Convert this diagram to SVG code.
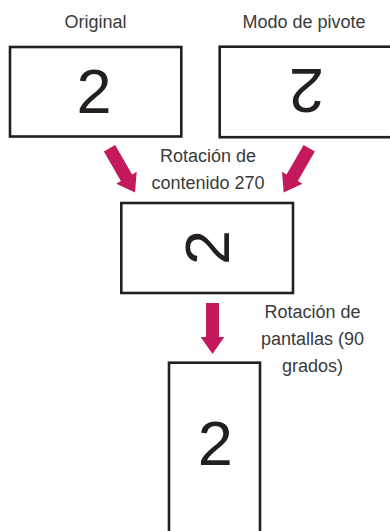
<svg xmlns="http://www.w3.org/2000/svg" width="390" height="531" viewBox="0 0 390 531">
  <style>
    .box { fill: #ffffff; stroke: #231f20; stroke-width: 2.6; }
    .lbl { font-family: "Liberation Sans", Arial, sans-serif; font-size: 18px; fill: #3a3a3a; text-anchor: middle; }
    .digit { font-family: "Liberation Sans", Arial, sans-serif; font-size: 63px; fill: #231f20; text-anchor: middle; }
    .arrow { fill: #c41a5b; }
  </style>
  <defs>
    <polygon id="arr" points="-6.5,0 6.5,0 6.5,34 11.8,34 0,51 -11.8,34 -6.5,34"/>
  </defs>
  <rect width="390" height="531" fill="#ffffff"/>

  <g id="original">
    <text class="lbl" x="95.5" y="28">Original</text>
    <rect class="box" x="10" y="47" width="171.3" height="89.5"/>
    <text class="digit" x="94" y="113">2</text>
  </g>

  <g id="pivote">
    <text class="lbl" x="304" y="28">Modo de pivote</text>
    <rect class="box" x="219.7" y="46.7" width="185" height="90.5"/>
    <text class="digit" x="306.5" y="113.5" transform="rotate(180 306.5 91)">2</text>
  </g>

  <g id="rotacion-contenido">
    <text class="lbl" x="208" y="162">Rotación de</text>
    <text class="lbl" x="208" y="188.5">contenido 270</text>
    <rect class="box" x="121.3" y="203" width="171.7" height="90"/>
    <text class="digit" x="206" y="270" transform="rotate(-90 206 247.5)">2</text>
  </g>

  <g id="rotacion-pantallas">
    <text class="lbl" x="312.5" y="318">Rotación de</text>
    <text class="lbl" x="312.5" y="345">pantallas (90</text>
    <text class="lbl" x="312.5" y="372">grados)</text>
    <rect class="box" x="169" y="362.7" width="91" height="200"/>
    <text class="digit" x="215.3" y="465">2</text>
  </g>

  <g id="connectors">
    <use href="#arr" class="arrow" transform="translate(109.5 148.3) rotate(-30)"/>
    <use href="#arr" class="arrow" transform="translate(309.2 148.3) rotate(30)"/>
    <use href="#arr" class="arrow" transform="translate(212.5 303)"/>
  </g>
</svg>
